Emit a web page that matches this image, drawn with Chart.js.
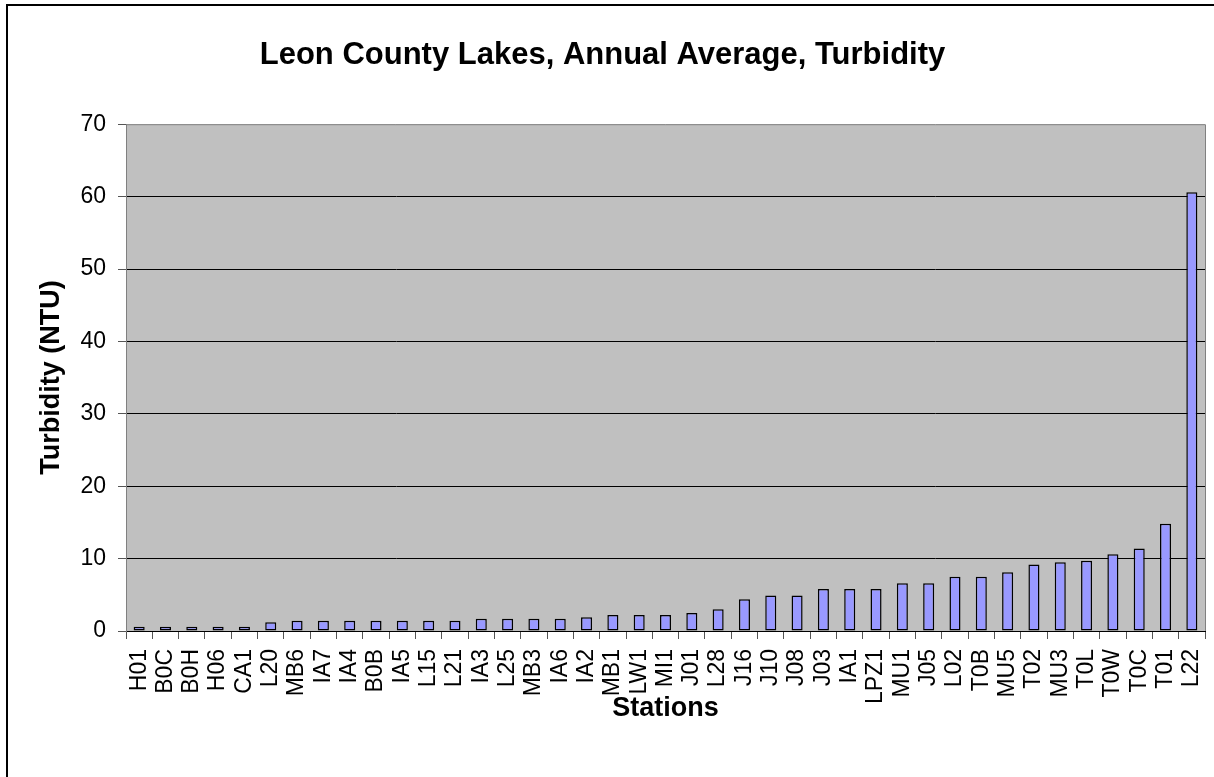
<!DOCTYPE html>
<html>
<head>
<meta charset="utf-8">
<title>Leon County Lakes, Annual Average, Turbidity</title>
<script src="https://cdn.jsdelivr.net/npm/chart.js@4.4.1/dist/chart.umd.min.js"></script>
<style>
  html, body { margin: 0; padding: 0; background: #fff; }
  #turbidityChart { display: block; }
</style>
</head>
<body>
<canvas id="turbidityChart" width="1214" height="777"></canvas>
<script>
// stations along the x axis
const stations = ['H01', 'B0C', 'B0H', 'H06', 'CA1', 'L20', 'MB6', 'IA7', 'IA4', 'B0B',
  'IA5', 'L15', 'L21', 'IA3', 'L25', 'MB3', 'IA6', 'IA2', 'MB1', 'LW1',
  'MI1', 'J01', 'L28', 'J16', 'J10', 'J08', 'J03', 'IA1', 'LPZ1', 'MU1',
  'J05', 'L02', 'T0B', 'MU5', 'T02', 'MU3', 'T0L', 'T0W', 'T0C', 'T01', 'L22'];
// annual average turbidity (NTU)
const turbidity = [0.6, 0.6, 0.6, 0.6, 0.6, 1.2, 1.4, 1.4, 1.4, 1.4,
  1.4, 1.4, 1.4, 1.7, 1.7, 1.7, 1.7, 1.9, 2.2, 2.2,
  2.2, 2.5, 3.0, 4.4, 4.9, 4.9, 5.8, 5.8, 5.8, 6.6,
  6.6, 7.5, 7.5, 8.1, 9.2, 9.5, 9.7, 10.6, 11.4, 14.8, 60.6];
const yTicks = [0, 10, 20, 30, 40, 50, 60, 70];

const FONT = '"Liberation Sans", Arial, sans-serif';

// grey plot area + outer frame like the excel chart
const plotBackground = {
  id: 'plotBackground',
  beforeDraw(chart) {
    const { ctx, chartArea } = chart;
    ctx.save();
    ctx.fillStyle = '#c0c0c0';
    ctx.fillRect(chartArea.left, chartArea.top, chartArea.width, chartArea.height);
    ctx.restore();
  },
  afterDraw(chart) {
    const { ctx, chartArea } = chart;
    ctx.save();
    ctx.strokeStyle = '#808080';
    ctx.lineWidth = 1;
    ctx.beginPath();
    ctx.moveTo(chartArea.left, chartArea.top + 0.5);
    ctx.lineTo(chartArea.right + 0.5, chartArea.top + 0.5);
    ctx.lineTo(chartArea.right + 0.5, chartArea.bottom);
    ctx.stroke();
    // outer frame
    ctx.strokeStyle = '#000';
    ctx.lineWidth = 2;
    ctx.strokeRect(7, 5, 1240, 800);
    ctx.restore();
  }
};

const ctx = document.getElementById('turbidityChart');
new Chart(ctx, {
  type: 'bar',
  data: {
    labels: stations,
    datasets: [{
      label: 'Turbidity',
      data: turbidity,
      backgroundColor: '#9999ff',
      borderColor: '#000',
      borderWidth: 1.5,
      borderSkipped: false,
      barPercentage: 0.42,
      categoryPercentage: 1.0
    }]
  },
  options: {
    responsive: false,
    animation: false,
    layout: { padding: { left: 0, right: 9, top: 0, bottom: 0 } },
    plugins: {
      legend: { display: false },
      tooltip: { enabled: false },
      title: {
        display: true,
        text: 'Leon County Lakes, Annual Average, Turbidity',
        color: '#000',
        font: { family: FONT, size: 31, weight: 'bold' },
        padding: { top: 37, bottom: 50 }
      }
    },
    scales: {
      x: {
        afterFit: (s) => { s.height = 146; s.paddingRight = 0; s.paddingLeft = 0; },
        grid: {
          display: true,
          drawOnChartArea: false,
          offset: true,
          tickLength: 8,
          tickColor: '#555'
        },
        border: { color: '#000', width: 1 },
        ticks: {
          autoSkip: false,
          minRotation: 90,
          maxRotation: 90,
          padding: 10,
          color: '#000',
          font: { family: FONT, size: 23 }
        },
        title: {
          display: true,
          text: 'Stations',
          color: '#000',
          font: { family: FONT, size: 27, weight: 'bold' },
          padding: { top: 0, bottom: 52 }
        }
      },
      y: {
        min: 0,
        max: 70,
        afterFit: (s) => { s.width = 126; },
        afterBuildTicks: (s) => { s.ticks = yTicks.map(v => ({ value: v })); },
        grid: {
          color: (c) => (c.tick && c.tick.value === 70 ? 'rgba(0,0,0,0)' : '#000'),
          lineWidth: 1,
          tickLength: 8,
          tickColor: '#555'
        },
        border: { color: '#808080', width: 1 },
        ticks: {
          padding: 12,
          color: '#000',
          font: { family: FONT, size: 23 }
        },
        title: {
          display: true,
          text: 'Turbidity (NTU)',
          color: '#000',
          font: { family: FONT, size: 27, weight: 'bold' },
          padding: { top: 35, bottom: 0 }
        }
      }
    }
  },
  plugins: [plotBackground]
});
</script>
</body>
</html>
